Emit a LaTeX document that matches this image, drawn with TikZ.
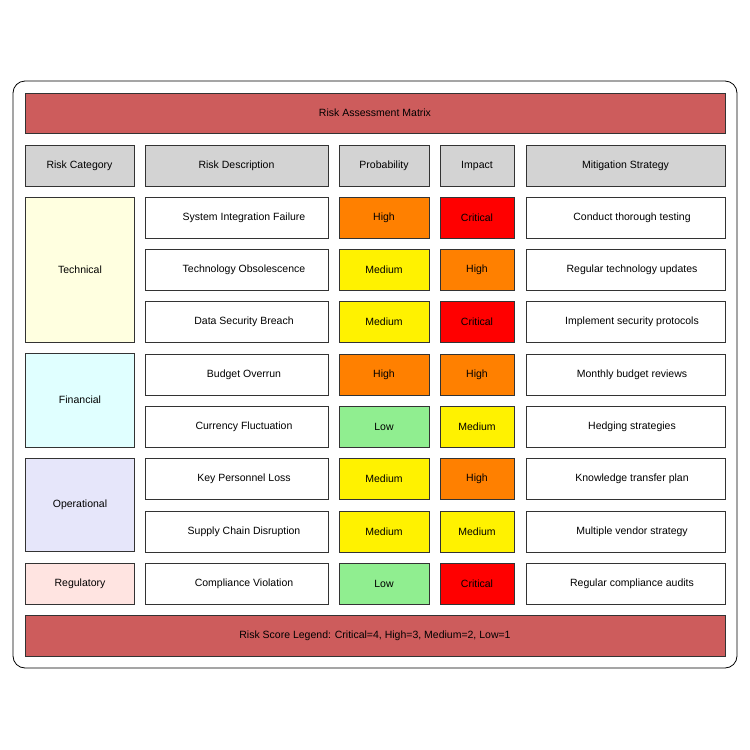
\documentclass[tikz,border=0pt]{standalone}
\usepackage{fontspec}
\setmainfont{Liberation Sans}
\usetikzlibrary{calc}
\definecolor{titlered}{HTML}{CD5C5C}
\definecolor{hdrgray}{HTML}{D3D3D3}
\definecolor{lowgreen}{HTML}{90EE90}
\definecolor{techyellow}{HTML}{FFFFE0}
\definecolor{fincyan}{HTML}{E0FFFF}
\definecolor{oplav}{HTML}{E6E6FA}
\definecolor{regrose}{HTML}{FFE4E1}
\tikzset{
  cell/.style={draw=black!80, line width=0.6pt, font=\fontsize{10.5}{12}\selectfont},
}
\newcommand{\cellbox}[6]{% name, x1, y1, x2, y2, fill, text
  \draw[cell, fill=#6] (#2,#3) rectangle (#4,#5);
  \node (#1) at ($(#2,#3)!0.5!(#4,#5)$) [font=\fontsize{10.5}{12}\selectfont] {};
}
\begin{document}
\begin{tikzpicture}[x=1pt,y=-1pt]
  \useasboundingbox (0,0) rectangle (750,750);
  \fill[white] (0,0) rectangle (750,750);

  \draw[line width=0.8pt, rounded corners=12pt] (13,81) rectangle (737,668);

  \draw[cell, fill=titlered] (25,93) rectangle (725,133);
  \node (title) at (375,113) [font=\fontsize{10.5}{12}\selectfont] {Risk Assessment Matrix};

  % header row
  \foreach \xa/\xb/\txt [count=\i] in {25/134/Risk Category, 145/328/Risk Description,
      339/429/Probability, 440/514/Impact, 526/725/Mitigation Strategy} {
    \draw[cell, fill=hdrgray] (\xa,145) rectangle (\xb,186);
    \node (hdr\i) at ({(\xa+\xb)/2},165.5) [font=\fontsize{10.5}{12}\selectfont] {\txt};
  }

  % categories
  \foreach \ya/\yb/\col/\txt [count=\i] in {197/342/techyellow/Technical, 353/447/fincyan/Financial,
      458/551/oplav/Operational, 563/604/regrose/Regulatory} {
    \draw[cell, fill=\col] (25,\ya) rectangle (134,\yb);
    \node (cat\i) at (80,{(\ya+\yb)/2}) [font=\fontsize{10.5}{12}\selectfont] {\txt};
  }

  % risk rows
  \foreach \desc/\prob/\pcol/\imp/\icol/\mit [count=\i] in {
      System Integration Failure/High/orange/Critical/red/Conduct thorough testing,
      Technology Obsolescence/Medium/yellow/High/orange/Regular technology updates,
      Data Security Breach/Medium/yellow/Critical/red/Implement security protocols,
      Budget Overrun/High/orange/High/orange/Monthly budget reviews,
      Currency Fluctuation/Low/lowgreen/Medium/yellow/Hedging strategies,
      Key Personnel Loss/Medium/yellow/High/orange/Knowledge transfer plan,
      Supply Chain Disruption/Medium/yellow/Medium/yellow/Multiple vendor strategy,
      Compliance Violation/Low/lowgreen/Critical/red/Regular compliance audits} {
    \pgfmathsetmacro{\ya}{197+(\i-1)*52.3}
    \pgfmathsetmacro{\yb}{\ya+41}
    \pgfmathsetmacro{\ym}{\ya+20.5}
    \draw[cell, fill=white] (145,\ya) rectangle (328,\yb);
    \node (desc\i) at (244,\ym) [font=\fontsize{10.5}{12}\selectfont] {\desc};
    \draw[cell, fill=\pcol] (339,\ya) rectangle (429,\yb);
    \node (prob\i) at (384,\ym) [font=\fontsize{10.5}{12}\selectfont] {\prob};
    \draw[cell, fill=\icol] (440,\ya) rectangle (514,\yb);
    \node (imp\i) at (477,\ym) [font=\fontsize{10.5}{12}\selectfont] {\imp};
    \draw[cell, fill=white] (526,\ya) rectangle (725,\yb);
    \node (mit\i) at (632,\ym) [font=\fontsize{10.5}{12}\selectfont] {\mit};
  }

  % legend
  \draw[cell, fill=titlered] (25,615) rectangle (725,656);
  \node (legend) at (375,635.5) [font=\fontsize{10.5}{12}\selectfont] {Risk Score Legend: Critical=4, High=3, Medium=2, Low=1};
\end{tikzpicture}
\end{document}
